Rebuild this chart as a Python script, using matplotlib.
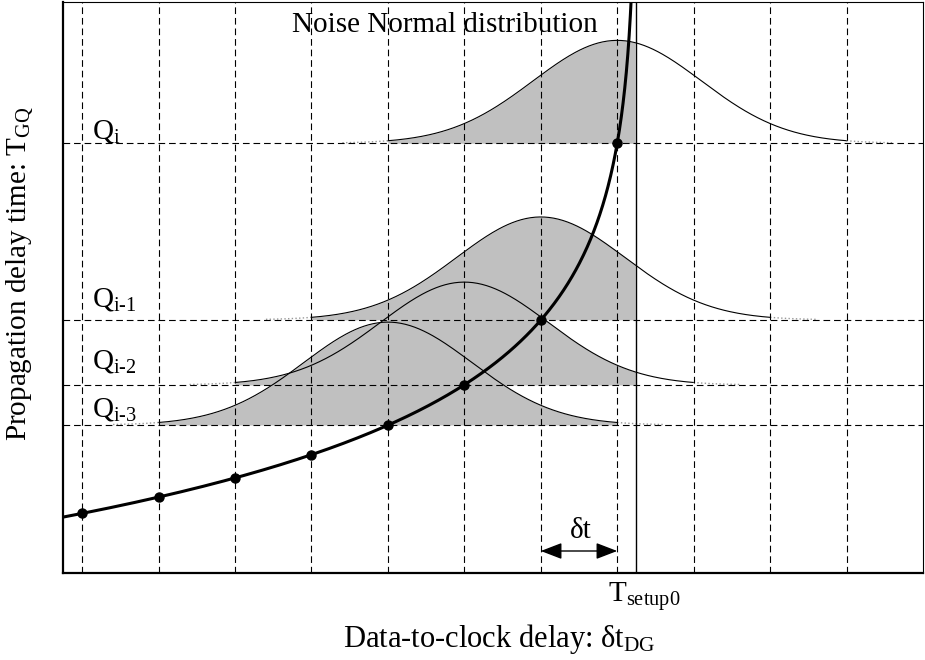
"""Setup-time curve with noise distributions around the sampled points."""

import numpy as np
import matplotlib
matplotlib.use("Agg")
import matplotlib.pyplot as plt
import matplotlib.transforms as mtransforms

plt.rcParams["font.family"] = ["Liberation Serif", "DejaVu Serif"]
plt.rcParams["mathtext.fontset"] = "custom"
plt.rcParams["mathtext.rm"] = "Liberation Serif"
plt.rcParams["mathtext.it"] = "Liberation Serif:italic"

# data
t_setup0 = 7.25
sample_x = [0, 1, 2, 3, 4, 5, 6, 7]
sample_y = [10.5, 13.3, 16.6, 20.6, 25.9, 32.9, 44.3, 75.2]
noise_centers = [4, 5, 6, 7]
noise_labels = ["Q$_{\\text{i-3}}$", "Q$_{\\text{i-2}}$", "Q$_{\\text{i-1}}$", "Q$_{\\mathrm{i}}$"]
noise_amp = 18.0
noise_sigma = 1.1
noise_span = 3.0
delta_t = (6, 7)
label_lift = [1.4, 2.8, 2.3, 0.9]  # how far each Q label sits above its line

FS = 21
GRAY = "#c0c0c0"

fig = plt.figure(figsize=(9.25, 6.6), dpi=100)
ax = fig.add_axes([63 / 925, 87 / 660, 860 / 925, 571.5 / 660])
ax.set_xlim(-0.25, 11)
ax.set_ylim(0, 100)

# delay curve: fit T = a + b*ln(Tsetup0 - x) through the samples
coef = np.polyfit(np.log(t_setup0 - np.array(sample_x)), sample_y, 1)
xc = t_setup0 - np.geomspace(7.6, 0.005, 600)
yc = np.polyval(coef, np.log(t_setup0 - xc))

# noise distributions, one per sampled point
levels = [sample_y[sample_x.index(c)] for c in noise_centers]
for c, base in zip(noise_centers, levels):
    xs = np.linspace(c - noise_span, c + noise_span, 300)
    g = base + noise_amp * np.exp(-((xs - c) ** 2) / (2 * noise_sigma**2))
    m = xs <= t_setup0
    ax.fill_between(xs[m], base, g[m], color=GRAY, lw=0, zorder=1)
    ax.plot(xs, g, color="black", lw=0.8, zorder=2)
    for side in (-1, 1):
        xt = np.linspace(c + side * noise_span, c + side * (noise_span + 0.6), 30)
        gt = base + noise_amp * np.exp(-((xt - c) ** 2) / (2 * noise_sigma**2))
        ax.plot(xt, gt, color="#999999", lw=1.0, ls=":", zorder=2)

# grid: vertical at sample positions, horizontal at the noise levels
ax.set_xticks(range(11))
ax.set_yticks(levels)
ax.tick_params(length=0, labelbottom=False, labelleft=False)
ax.grid(True, color="black", lw=0.8, ls=(0, (6, 3.5)), zorder=3)
ax.set_axisbelow(False)
for line in ax.get_xgridlines() + ax.get_ygridlines():
    line.set_zorder(3)

ax.axvline(t_setup0, color="black", lw=1.0, zorder=3)

ax.plot(xc, yc, color="black", lw=2.2, zorder=4, solid_capstyle="butt")
ax.plot(sample_x, sample_y, "o", color="black", ms=6.5, zorder=5)

for lab, base, lift in zip(noise_labels, levels, label_lift):
    ax.text(0.13, base + lift, lab, fontsize=FS, ha="left", va="baseline", zorder=6)

ax.text(2.745, 94.7, "Noise Normal distribution", fontsize=FS, ha="left", va="baseline")

# delta-t arrow
ax.annotate("", xy=(delta_t[0], 3.85), xytext=(delta_t[1], 3.85),
            arrowprops=dict(arrowstyle="<|-|>,head_length=1.3,head_width=0.5",
                            color="black", lw=1.0, shrinkA=0, shrinkB=0))
ax.text(sum(delta_t) / 2 + 0.02, 6.1, "δt", fontsize=FS, ha="center", va="baseline")

trans = mtransforms.blended_transform_factory(ax.transData, ax.transAxes)
ax.text(6.88, -29 / 571.5, "T$_{\\mathrm{setup0}}$", fontsize=FS, ha="left",
        va="baseline", transform=trans)

for side in ("left", "bottom"):
    ax.spines[side].set_linewidth(1.6)
for side in ("top", "right"):
    ax.spines[side].set_linewidth(0.8)

fig.text(499 / 925, 1 - 647 / 660, "Data-to-clock delay: δt$_{\\mathrm{DG}}$",
         fontsize=FS + 1, ha="center", va="baseline")
fig.text(20 / 925, 1 - 274 / 660, "Propagation delay time: T$_{\\mathrm{GQ}}$",
         fontsize=FS, ha="center", va="center", rotation=90)

fig.savefig("out.png", dpi=100)
